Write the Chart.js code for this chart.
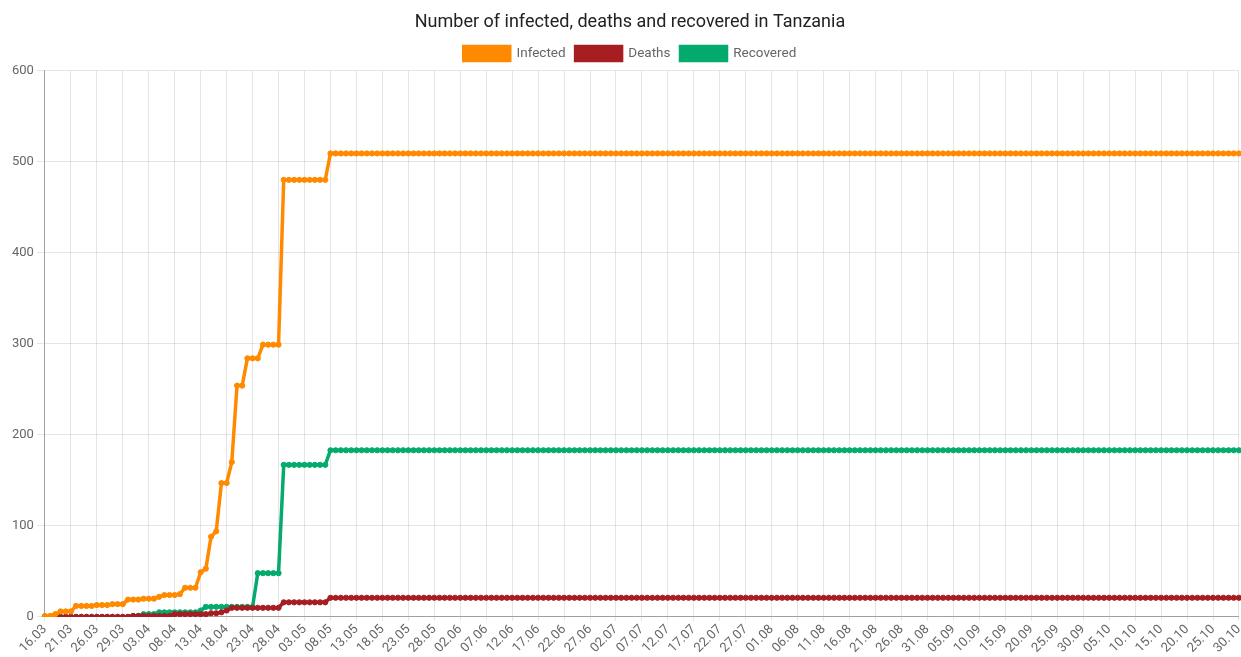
<!DOCTYPE html>
<html>
<head>
<meta charset="utf-8">
<title>Tanzania</title>
<script src="https://cdn.jsdelivr.net/npm/chart.js@4"></script>
<style>
  html, body { margin: 0; padding: 0; background: #fff; overflow: hidden; }
  #wrap { position: relative; width: 1251px; height: 657px; }
</style>
</head>
<body>
<div id="wrap"><canvas id="chart"></canvas></div>
<script>
// Dates as they appear on the x axis (the source has two doubled days in late March)
const dates = [
  '16.03','17.03','18.03','19.03','20.03','21.03','22.03','23.03','24.03','25.03','26.03',
  '27.03','27.03','28.03','28.03','29.03','30.03','31.03',
  '01.04','02.04','03.04','04.04','05.04','06.04','07.04','08.04','09.04','10.04',
  '11.04','12.04','13.04','14.04','15.04','16.04','17.04','18.04','19.04','20.04',
  '21.04','22.04','23.04','24.04','25.04','26.04','27.04','28.04','29.04','30.04',
  '01.05','02.05','03.05','04.05','05.05','06.05','07.05','08.05','09.05','10.05',
  '11.05','12.05','13.05','14.05','15.05','16.05','17.05','18.05','19.05','20.05',
  '21.05','22.05','23.05','24.05','25.05','26.05','27.05','28.05','29.05','30.05','31.05',
  '01.06','02.06','03.06','04.06','05.06','06.06','07.06','08.06','09.06','10.06',
  '11.06','12.06','13.06','14.06','15.06','16.06','17.06','18.06','19.06','20.06',
  '21.06','22.06','23.06','24.06','25.06','26.06','27.06','28.06','29.06','30.06',
  '01.07','02.07','03.07','04.07','05.07','06.07','07.07','08.07','09.07','10.07',
  '11.07','12.07','13.07','14.07','15.07','16.07','17.07','18.07','19.07','20.07',
  '21.07','22.07','23.07','24.07','25.07','26.07','27.07','28.07','29.07','30.07','31.07',
  '01.08','02.08','03.08','04.08','05.08','06.08','07.08','08.08','09.08','10.08',
  '11.08','12.08','13.08','14.08','15.08','16.08','17.08','18.08','19.08','20.08',
  '21.08','22.08','23.08','24.08','25.08','26.08','27.08','28.08','29.08','30.08','31.08',
  '01.09','02.09','03.09','04.09','05.09','06.09','07.09','08.09','09.09','10.09',
  '11.09','12.09','13.09','14.09','15.09','16.09','17.09','18.09','19.09','20.09',
  '21.09','22.09','23.09','24.09','25.09','26.09','27.09','28.09','29.09','30.09',
  '01.10','02.10','03.10','04.10','05.10','06.10','07.10','08.10','09.10','10.10',
  '11.10','12.10','13.10','14.10','15.10','16.10','17.10','18.10','19.10','20.10',
  '21.10','22.10','23.10','24.10','25.10','26.10','27.10','28.10','29.10','30.10'
];

const infected = [
  1,1,3,6,6,6,12,12,12,12,
  13,13,13,14,14,14,19,19,19,20,
  20,20,22,24,24,24,25,32,32,32,
  49,53,88,94,147,147,170,254,254,284,
  284,284,299,299,299,299,480,480,480,480,
  480,480,480,480,480,
  509,509,509,509,509,509,509,509,509,509,509, 509,509,509,509,509,509,509,509,509,509,509,
  509,509,509,509,509,509,509,509,509,509,509, 509,509,509,509,509,509,509,509,509,509,509,
  509,509,509,509,509,509,509,509,509,509,509, 509,509,509,509,509,509,509,509,509,509,509,
  509,509,509,509,509,509,509,509,509,509,509, 509,509,509,509,509,509,509,509,509,509,509,
  509,509,509,509,509,509,509,509,509,509,509, 509,509,509,509,509,509,509,509,509,509,509,
  509,509,509,509,509,509,509,509,509,509,509, 509,509,509,509,509,509,509,509,509,509,509,
  509,509,509,509,509,509,509,509,509,509,509, 509,509,509,509,509,509,509,509,509,509,509,
  509,509,509,509,509,509,509,509,509,509,509, 509,509,509,509,509,509,509,509,509,509,509
];

const deaths = [
  0,0,0,0,0,0,0,0,0,0,
  0,0,0,0,0,0,0,1,1,1,
  1,1,1,1,1,3,3,3,3,3,
  3,3,4,4,5,7,10,10,10,10,
  10,10,10,10,10,10,16,16,16,16,
  16,16,16,16,16,
  21,21,21,21,21,21,21,21,21,21,21, 21,21,21,21,21,21,21,21,21,21,21,
  21,21,21,21,21,21,21,21,21,21,21, 21,21,21,21,21,21,21,21,21,21,21,
  21,21,21,21,21,21,21,21,21,21,21, 21,21,21,21,21,21,21,21,21,21,21,
  21,21,21,21,21,21,21,21,21,21,21, 21,21,21,21,21,21,21,21,21,21,21,
  21,21,21,21,21,21,21,21,21,21,21, 21,21,21,21,21,21,21,21,21,21,21,
  21,21,21,21,21,21,21,21,21,21,21, 21,21,21,21,21,21,21,21,21,21,21,
  21,21,21,21,21,21,21,21,21,21,21, 21,21,21,21,21,21,21,21,21,21,21,
  21,21,21,21,21,21,21,21,21,21,21, 21,21,21,21,21,21,21,21,21,21,21
];

const recovered = [
  0,0,0,0,0,0,0,0,0,0,
  0,0,0,0,0,0,0,1,1,3,
  3,3,5,5,5,5,5,5,5,5,
  7,11,11,11,11,11,11,11,11,11,
  11,48,48,48,48,48,167,167,167,167,
  167,167,167,167,167,
  183,183,183,183,183,183,183,183,183,183,183, 183,183,183,183,183,183,183,183,183,183,183,
  183,183,183,183,183,183,183,183,183,183,183, 183,183,183,183,183,183,183,183,183,183,183,
  183,183,183,183,183,183,183,183,183,183,183, 183,183,183,183,183,183,183,183,183,183,183,
  183,183,183,183,183,183,183,183,183,183,183, 183,183,183,183,183,183,183,183,183,183,183,
  183,183,183,183,183,183,183,183,183,183,183, 183,183,183,183,183,183,183,183,183,183,183,
  183,183,183,183,183,183,183,183,183,183,183, 183,183,183,183,183,183,183,183,183,183,183,
  183,183,183,183,183,183,183,183,183,183,183, 183,183,183,183,183,183,183,183,183,183,183,
  183,183,183,183,183,183,183,183,183,183,183, 183,183,183,183,183,183,183,183,183,183,183
];

const yTicks = [0, 100, 200, 300, 400, 500, 600];
const LABEL_EVERY = 5;

const ORANGE = '#ff8a00';
const RED = '#a61e22';
const GREEN = '#05aa6d';
const GRID = 'rgba(0,0,0,0.1)';

function series(label, data, color) {
    return {
        label: label,
        data: data,
        borderColor: color,
        backgroundColor: color,
        pointBackgroundColor: color,
        pointBorderColor: color,
        borderWidth: 3.5,
        pointRadius: 2.6,
        pointBorderWidth: 1,
        tension: 0,
        fill: false
    };
}

Chart.defaults.font.family = 'Roboto, "Open Sans", sans-serif';
Chart.defaults.color = '#666';

new Chart(document.getElementById('chart'), {
    type: 'line',
    data: {
        labels: dates,
        datasets: [
            series('Infected', infected, ORANGE),
            series('Deaths', deaths, RED),
            series('Recovered', recovered, GREEN)
        ]
    },
    options: {
        responsive: true,
        maintainAspectRatio: false,
        animation: false,
        layout: { padding: { left: 9, right: 0, top: 0, bottom: 0 } },
        plugins: {
            title: {
                display: true,
                text: 'Number of infected, deaths and recovered in Tanzania',
                color: '#222',
                font: { size: 18, weight: 'normal' },
                padding: { top: 12, bottom: 3 }
            },
            legend: {
                position: 'top',
                labels: {
                    boxWidth: 46,
                    boxHeight: 14,
                    color: '#666',
                    font: { size: 13.5 },
                    padding: 10
                }
            },
            tooltip: { enabled: false }
        },
        scales: {
            x: {
                grid: { color: GRID, tickLength: 4 },
                border: { color: 'rgba(0,0,0,0.3)' },
                afterFit: function(scale) {
                    // leave a little room on the right like the original canvas
                    scale.paddingRight = Math.max(scale.paddingRight, 11);
                },
                ticks: {
                    autoSkip: false,
                    minRotation: 45,
                    maxRotation: 45,
                    color: '#666',
                    font: { size: 13 },
                    padding: 1,
                    callback: function(value, index) {
                        return index % LABEL_EVERY === 0 ? dates[index] : null;
                    }
                }
            },
            y: {
                min: yTicks[0],
                max: yTicks[yTicks.length - 1],
                grid: { color: GRID },
                border: { color: 'rgba(0,0,0,0.3)' },
                afterBuildTicks: function(axis) {
                    axis.ticks = yTicks.map(v => ({ value: v }));
                },
                ticks: {
                    color: '#666',
                    font: { size: 13 }
                }
            }
        }
    }
});
</script>
</body>
</html>
